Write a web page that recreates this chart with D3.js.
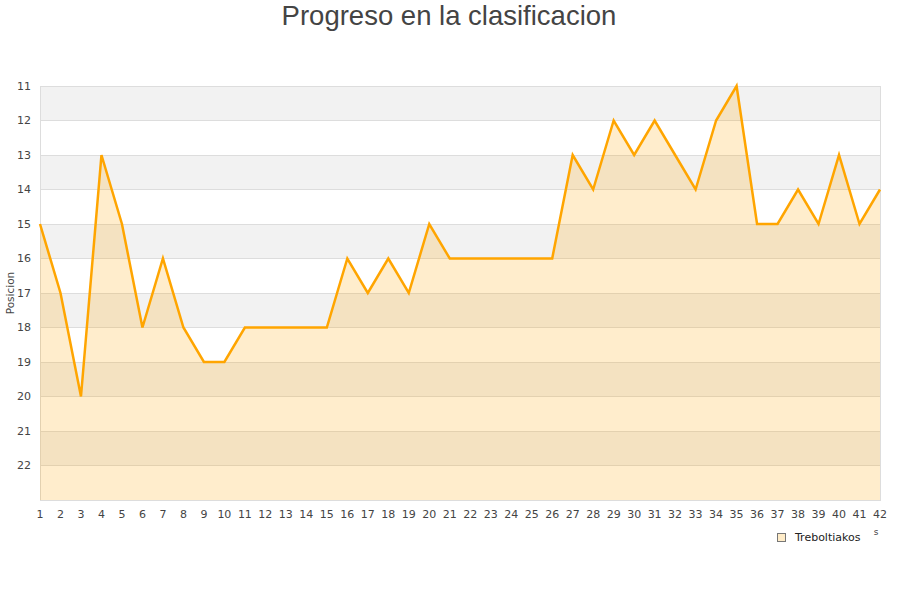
<!DOCTYPE html>
<html><head><meta charset="utf-8">
<script src="https://cdn.jsdelivr.net/npm/d3@7"></script>
<style>body{margin:0;background:#fff}svg{display:block}</style>
</head><body>
<svg id="c" width="900" height="600"></svg>
<script>
const title = "Progreso en la clasificacion";
const seriesName = "Treboltiakos";
const yTitle = "Posicion";
const jornadas = d3.range(1, 43);
const posiciones = [15,17,20,13,15,18,16,18,19,19,18,18,18,18,18,16,17,16,17,15,16,16,16,16,16,16,13,14,12,13,12,13,14,12,11,15,15,14,15,13,15,14];
const yTicks = [11,12,13,14,15,16,17,18,19,20,21,22];
const yDomain = [11, 23];

const svg = d3.select("#c");
const L = 40, R = 880, T = 86, B = 500;
const x = d3.scaleLinear().domain([1, 42]).range([L, R]);
const y = d3.scaleLinear().domain(yDomain).range([T, B]);

const bands = d3.range(11, 23);
svg.append("g").selectAll("rect").data(bands).join("rect")
  .attr("x", L).attr("width", R - L)
  .attr("y", d => y(d)).attr("height", d => y(d + 1) - y(d))
  .attr("fill", (d, i) => i % 2 === 0 ? "#f2f2f2" : "#ffffff");
svg.append("g").selectAll("line").data(yTicks.concat([23])).join("line")
  .attr("x1", L).attr("x2", R).attr("y1", d => y(d)).attr("y2", d => y(d))
  .attr("stroke", "#dddddd").attr("stroke-width", 1).attr("shape-rendering", "crispEdges");
svg.append("rect").attr("x", L).attr("y", T).attr("width", R - L).attr("height", B - T)
  .attr("fill", "none").attr("stroke", "#dddddd").attr("shape-rendering", "crispEdges");

const pts = jornadas.map((j, i) => [j, posiciones[i]]);
svg.append("path").datum(pts)
  .attr("d", d3.area().x(d => x(d[0])).y0(y(23)).y1(d => y(d[1])))
  .attr("fill", "rgba(255,165,0,0.2)");
svg.append("path").datum(pts)
  .attr("d", d3.line().x(d => x(d[0])).y(d => y(d[1])))
  .attr("fill", "none").attr("stroke", "#ffa500").attr("stroke-width", 2.5).attr("stroke-linejoin", "miter");

const font = "DejaVu Sans, sans-serif";
svg.append("g").selectAll("text").data(yTicks).join("text")
  .attr("x", 31).attr("y", d => y(d)).attr("dy", "0.35em").attr("text-anchor", "end")
  .attr("font-family", font).attr("font-size", 11).attr("fill", "#444").text(d => d);
svg.append("g").selectAll("text").data(jornadas).join("text")
  .attr("x", d => x(d)).attr("y", 514).attr("dy", "0.35em").attr("text-anchor", "middle")
  .attr("font-family", font).attr("font-size", 11).attr("fill", "#444").text(d => d);

svg.append("text").attr("transform", `translate(14,${(T + B) / 2}) rotate(-90)`)
  .attr("text-anchor", "middle").attr("font-family", font).attr("font-size", 10.5).attr("fill", "#444").text(yTitle);

svg.append("text").attr("x", 449).attr("y", 25).attr("text-anchor", "middle")
  .attr("font-family", "Liberation Sans, Arial, sans-serif").attr("font-size", 27.5).attr("fill", "#444").text(title);

svg.append("rect").attr("x", 777.5).attr("y", 533.5).attr("width", 8).attr("height", 8)
  .attr("fill", "#ffecc8").attr("stroke", "#777");
svg.append("text").attr("x", 795).attr("y", 537.5).attr("dy", "0.35em")
  .attr("font-family", font).attr("font-size", 11).attr("fill", "#222").text(seriesName);
svg.append("text").attr("x", 876).attr("y", 532).attr("dy", "0.35em").attr("text-anchor", "middle")
  .attr("font-family", font).attr("font-size", 9).attr("fill", "#444").text("s");
</script>
</body></html>
